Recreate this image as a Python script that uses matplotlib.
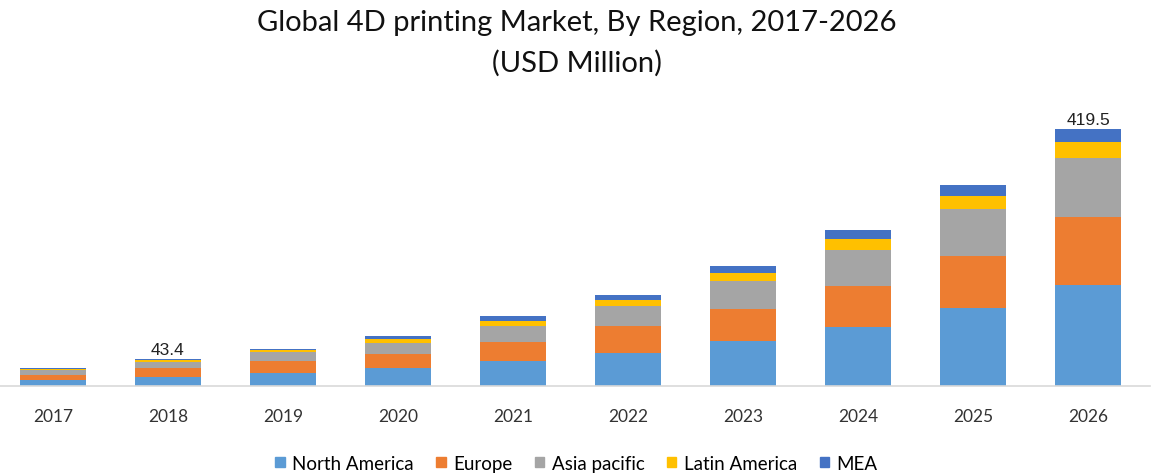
import numpy as np
import matplotlib
matplotlib.use("Agg")
import matplotlib.pyplot as plt
from matplotlib.patches import Patch

years = ["2017", "2018", "2019", "2020", "2021", "2022", "2023", "2024", "2025", "2026"]
north_america = [9.5, 14.3, 20.5, 28.1, 40.1, 53.2, 72.3, 95.2, 126.3, 164.3]
europe = [8.2, 14.2, 20.0, 23.9, 31.6, 43.7, 52.8, 68.0, 85.0, 111.2]
asia_pacific = [7.2, 10.3, 14.7, 17.0, 26.2, 32.7, 45.3, 58.9, 77.4, 96.5]
latin_america = [2.1, 2.9, 2.6, 7.0, 7.7, 10.3, 13.6, 17.5, 21.8, 26.7]
mea = [1.2, 1.7, 1.6, 4.4, 7.7, 8.7, 11.4, 14.7, 17.5, 20.8]
labelled_years = ["2018", "2026"]

series = [
    ("North America", north_america, "#5B9BD5"),
    ("Europe", europe, "#ED7D31"),
    ("Asia pacific", asia_pacific, "#A5A5A5"),
    ("Latin America", latin_america, "#FFC000"),
    ("MEA", mea, "#4472C4"),
]

font = ["Lato", "DejaVu Sans"]

fig = plt.figure(figsize=(11.53, 4.77), dpi=100)
ax = fig.add_axes([0.0, 0.1897, 0.9975, 0.5897])

x = np.arange(len(years))
bottom = np.zeros(len(years))
for name, vals, color in series:
    ax.bar(x, vals, width=0.575, bottom=bottom, color=color, label=name)
    bottom += np.array(vals)

# totals above the selected bars
for i, yr in enumerate(years):
    if yr in labelled_years:
        ax.text(x[i], bottom[i] + 3, f"{bottom[i]:.1f}", ha="center", va="bottom",
                fontsize=12.5, family=["Liberation Sans", "DejaVu Sans"], color="#222222")

ax.set_xlim(-0.46, 9.54)
ax.set_ylim(0, 460)
ax.set_xticks(x)
ax.set_xticklabels(years, family=font, fontsize=12.5, color="#333333")
ax.tick_params(axis="x", length=0, pad=16)
ax.set_yticks([])
for side in ["top", "right", "left"]:
    ax.spines[side].set_visible(False)
ax.spines["bottom"].set_color("#d9d9d9")
ax.spines["bottom"].set_linewidth(1.2)

fig.text(0.5, 0.952, "Global 4D printing Market, By Region, 2017-2026", ha="center",
         va="center", family=font, fontsize=21, color="#111111")
fig.text(0.5, 0.868, "(USD Million)", ha="center", va="center", family=font,
         fontsize=21, color="#111111")

handles = [Patch(color=c, label=n) for n, _, c in series]
fig.legend(handles=handles, loc="center", bbox_to_anchor=(0.5, 0.027), ncol=5,
           frameon=False, prop={"family": font, "size": 13.5},
           handlelength=0.5, handleheight=0.5, handletextpad=0.4, columnspacing=1.2)

fig.savefig("out.png", dpi=100, facecolor="white")
